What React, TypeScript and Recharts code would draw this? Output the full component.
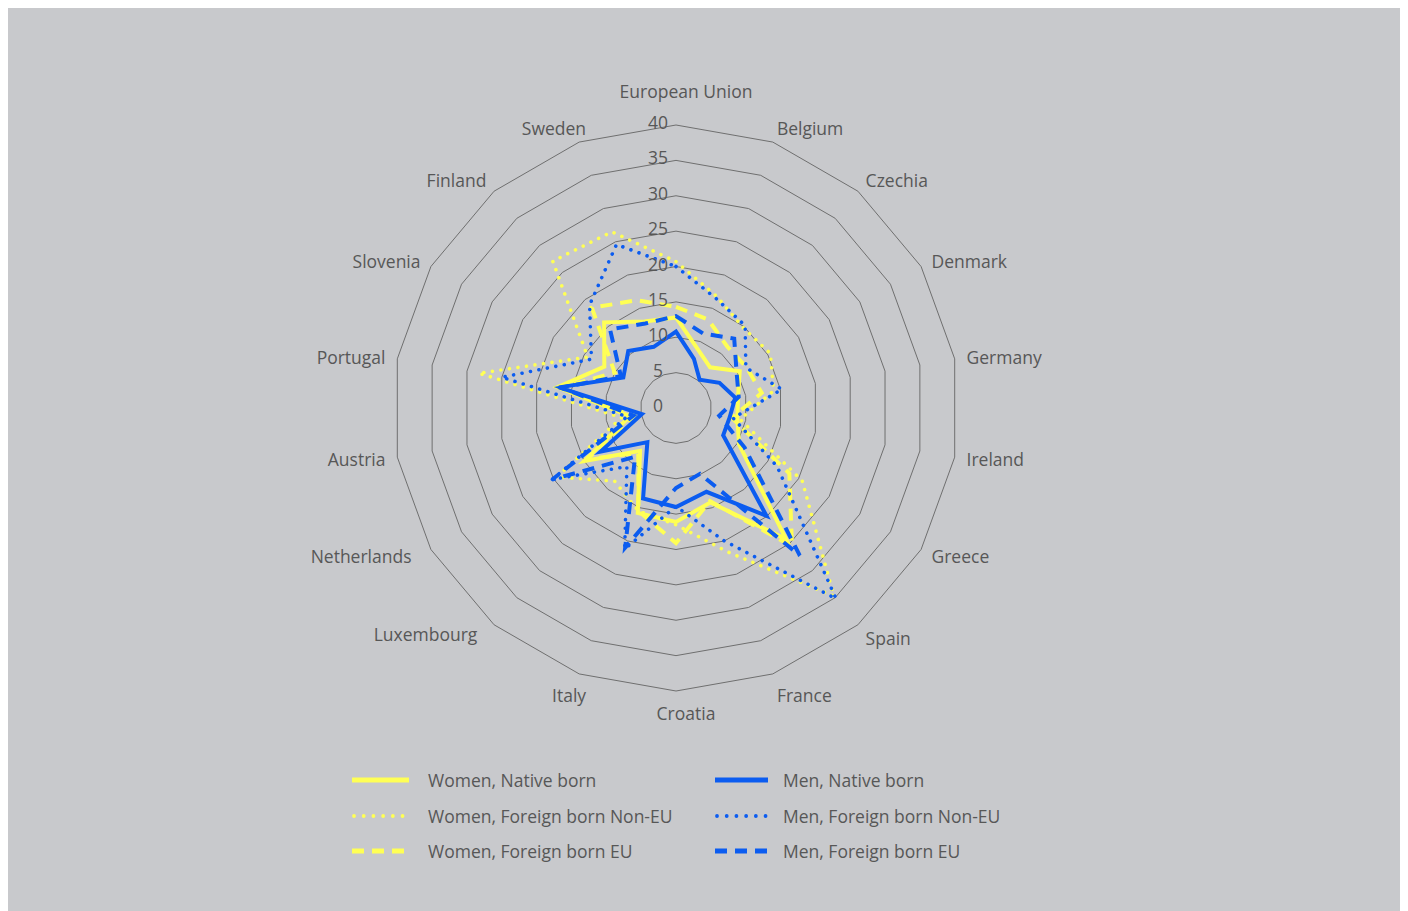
import React from "react";
import { RadarChart, Radar, PolarGrid, PolarAngleAxis, PolarRadiusAxis } from "recharts";

const countries = [
  "European Union", "Belgium", "Czechia", "Denmark", "Germany", "Ireland", "Greece", "Spain", "France",
  "Croatia", "Italy", "Luxembourg", "Netherlands", "Austria", "Portugal", "Slovenia", "Finland", "Sweden",
];

const womenNative = [12.8, 8.9, 7.5, 10.4, 8.9, 8.8, 10.3, 24.2, 14.2, 16.1, 15.8, 7.9, 15.0, 6.6, 17.0, 11.7, 15.8, 13.0];
const womenNonEU = [20.7, 16.8, 14.8, 15.4, 14.0, 9.2, 20.6, 34.7, 21.7, 16.5, 15.5, 13.5, 19.5, 7.8, 28.3, 14.4, 27.1, 26.5];
const womenEU = [14.3, 13.3, 11.3, 11.5, 12.3, 8.0, 18.5, 25.5, 14.0, 19.1, 15.5, 8.3, 14.5, 6.0, 16.5, 10.0, 18.5, 16.2];
const menNative = [10.8, 7.4, 5.2, 7.1, 8.5, 7.7, 7.7, 19.9, 12.6, 14.0, 13.6, 6.3, 12.3, 4.9, 16.8, 8.6, 10.5, 9.2];
const menNonEU = [20.0, 16.5, 15.2, 11.4, 15.2, 8.2, 16.5, 35.2, 20.0, 13.9, 21.2, 10.8, 20.2, 7.0, 25.0, 13.8, 19.0, 24.6];
const menEU = [13.0, 11.2, 12.8, 9.9, 9.0, 6.2, 11.2, 27.2, 9.9, 11.3, 21.0, 9.0, 20.2, 6.1, 16.5, 9.0, 14.5, 12.7];

const radiusTicks = [0, 5, 10, 15, 20, 25, 30, 35, 40];

const YELLOW = "#ffff55";
const BLUE = "#0b5cf0";
const TEXT = "#575757";
const FONT = "'Open Sans', sans-serif";

const W = 1395;
const H = 903;
const CX = 668;
const CY = 400;
const R = 283;

const data = countries.map((c, i) => ({
  country: c,
  wn: womenNative[i],
  wne: womenNonEU[i],
  we: womenEU[i],
  mn: menNative[i],
  mne: menNonEU[i],
  me: menEU[i],
}));

type StyleKind = "solid" | "dotted" | "dashed";

const series: { key: string; name: string; color: string; kind: StyleKind }[] = [
  { key: "wne", name: "Women, Foreign born Non-EU", color: YELLOW, kind: "dotted" },
  { key: "we", name: "Women, Foreign born EU", color: YELLOW, kind: "dashed" },
  { key: "wn", name: "Women, Native born", color: YELLOW, kind: "solid" },
  { key: "mne", name: "Men, Foreign born Non-EU", color: BLUE, kind: "dotted" },
  { key: "mn", name: "Men, Native born", color: BLUE, kind: "solid" },
  { key: "me", name: "Men, Foreign born EU", color: BLUE, kind: "dashed" },
];

const strokeProps = (kind: StyleKind) => {
  if (kind === "dotted") return { strokeWidth: 3.6, strokeDasharray: "0.01 8.6", strokeLinecap: "round" as const };
  if (kind === "dashed") return { strokeWidth: 4, strokeDasharray: "12 8" };
  return { strokeWidth: 4 };
};

const AngleTick = (props: any) => {
  const { payload } = props;
  const a = (payload.coordinate * Math.PI) / 180;
  const ux = Math.cos(a);
  const uy = -Math.sin(a);
  const lr = R + 12;
  let x = CX + lr * ux;
  let y = CY + lr * uy;
  let anchor: "start" | "end" | "middle" = "middle";
  if (ux > 0.01) anchor = "start";
  else if (ux < -0.01) anchor = "end";
  if (anchor === "middle") {
    x += 10;
    y += uy < 0 ? -22 : 10;
  } else {
    if (uy > 0.9) y += 10;
    else if (uy > 0.7 && ux > 0) y += 4;
    else if (uy < -0.5) y += (uy + 0.5) * 7;
    if (ux < 0 && ux > -0.5) x += 11;
    if (ux < -0.5 && uy > 0.3) x -= 9;
  }
  return (
    <text x={x} y={y} textAnchor={anchor} dominantBaseline="central" fontSize={17.5} fill={TEXT} fontFamily={FONT}>
      {payload.value}
    </text>
  );
};

const RadiusTick = (props: any) => {
  const { x, y, payload } = props;
  return (
    <text x={x - 18} y={y - 3} textAnchor="middle" dominantBaseline="central" fontSize={17.5} fill={TEXT} fontFamily={FONT}>
      {payload.value}
    </text>
  );
};

const legendLeft = [
  { name: "Women, Native born", color: YELLOW, kind: "solid" as StyleKind },
  { name: "Women, Foreign born Non-EU", color: YELLOW, kind: "dotted" as StyleKind },
  { name: "Women, Foreign born EU", color: YELLOW, kind: "dashed" as StyleKind },
];
const legendRight = [
  { name: "Men, Native born", color: BLUE, kind: "solid" as StyleKind },
  { name: "Men, Foreign born Non-EU", color: BLUE, kind: "dotted" as StyleKind },
  { name: "Men, Foreign born EU", color: BLUE, kind: "dashed" as StyleKind },
];

const LegendSample = ({ color, kind, width }: { color: string; kind: StyleKind; width: number }) => {
  let dash: string | undefined;
  let sw = 5;
  let cap: "round" | "butt" = "butt";
  if (kind === "dotted") {
    dash = "0.01 9.7";
    sw = 3.8;
    cap = "round";
  } else if (kind === "dashed") {
    dash = "12 8";
  }
  return (
    <svg width={width} height={12} style={{ display: "block" }}>
      <line x1={kind === "dotted" ? 2 : 0} y1={6} x2={width} y2={6} stroke={color} strokeWidth={sw} strokeDasharray={dash} strokeLinecap={cap} />
    </svg>
  );
};

const LegendColumn = ({ items, left, textLeft, sampleW }: any) => (
  <>
    {items.map((it: any, i: number) => {
      const top = 772 + i * 35.5;
      return (
        <React.Fragment key={it.name}>
          <div style={{ position: "absolute", left, top: top - 6 }}>
            <LegendSample color={it.color} kind={it.kind} width={sampleW} />
          </div>
          <div
            style={{
              position: "absolute",
              left: textLeft,
              top: top - 12,
              height: 24,
              lineHeight: "24px",
              fontSize: 17.5,
              color: TEXT,
              fontFamily: FONT,
              whiteSpace: "nowrap",
            }}
          >
            {it.name}
          </div>
        </React.Fragment>
      );
    })}
  </>
);

export default function App() {
  return (
    <div style={{ width: W, height: H, background: "#c8c9cc", position: "relative", fontFamily: FONT }}>
      <RadarChart width={W} height={H} data={data} cx={CX} cy={CY} outerRadius={R} startAngle={90} endAngle={-270}>
        <PolarGrid gridType="polygon" radialLines={false} stroke="#6f6f6f" strokeWidth={1} />
        <PolarAngleAxis dataKey="country" tick={AngleTick} tickLine={false} axisLine={false} />
        <PolarRadiusAxis
          angle={90}
          domain={[0, 40]}
          ticks={radiusTicks}
          tickCount={9}
          tick={RadiusTick}
          axisLine={false}
          tickLine={false}
        />
        {series.map((s) => (
          <Radar
            key={s.key}
            name={s.name}
            dataKey={s.key}
            stroke={s.color}
            fill="none"
            fillOpacity={0}
            dot={false}
            isAnimationActive={false}
            {...strokeProps(s.kind)}
          />
        ))}
      </RadarChart>
      <LegendColumn items={legendLeft} left={344} textLeft={420} sampleW={57} />
      <LegendColumn items={legendRight} left={707} textLeft={775} sampleW={53} />
    </div>
  );
}
